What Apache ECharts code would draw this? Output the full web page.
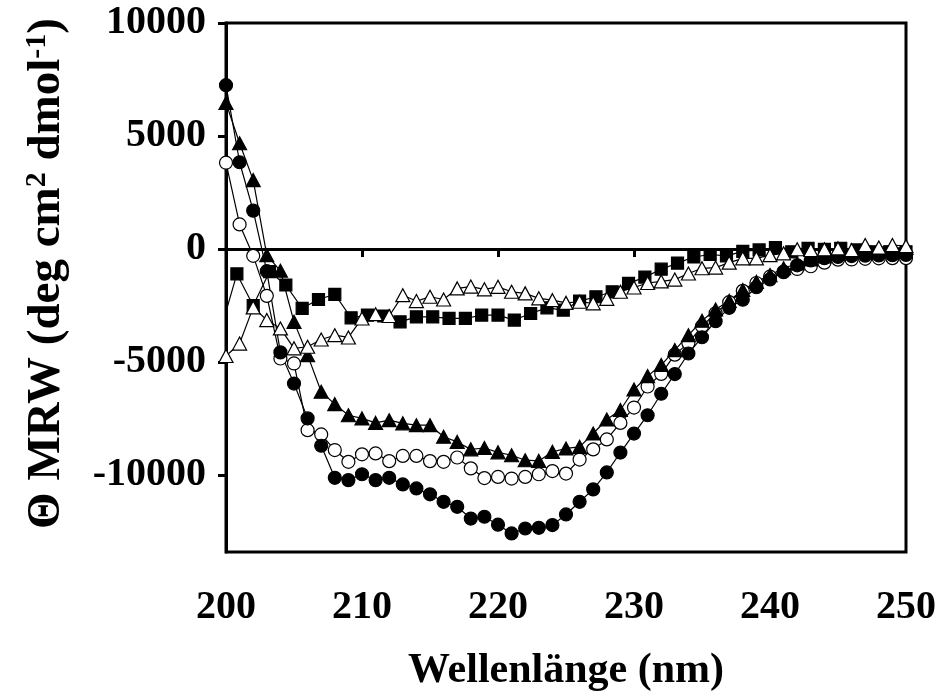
<!DOCTYPE html>
<html>
<head>
<meta charset="utf-8">
<script src="https://cdn.jsdelivr.net/npm/echarts@6/dist/echarts.min.js"></script>
<style>
html,body{margin:0;padding:0;background:#fff;}
#chart{width:936px;height:692px;}
</style>
</head>
<body>
<div id="chart"></div>
<script>
// Wavelengths (nm) for circle / triangle series
const wavelengths = [200,201,202,203,204,205,206,207,208,209,210,211,212,213,214,215,216,217,218,219,220,
  221,222,223,224,225,226,227,228,229,230,231,232,233,234,235,236,237,238,239,240,
  241,242,243,244,245,246,247,248,249,250];

// Filled circles
const filledCircle = [7250,3840,1700,-980,-4570,-5950,-7490,-8700,-10120,-10220,-9960,-10220,-10120,-10410,-10590,-10850,-11180,-11400,-11920,-11840,-12190,
  -12580,-12360,-12330,-12210,-11740,-11180,-10630,-9880,-9000,-8160,-7350,-6400,-5530,-4620,-3900,-3190,-2600,-2240,-1690,-1340,
  -1020,-720,-500,-400,-350,-310,-290,-280,-270,-260];

// Open circles
const openCircle = [3820,1090,-300,-2070,-4840,-5060,-8010,-8200,-8890,-9410,-9080,-9040,-9380,-9150,-9150,-9380,-9410,-9220,-9700,-10130,-10080,
  -10150,-10080,-9960,-9820,-9930,-9310,-8860,-8420,-7690,-7010,-6080,-5520,-4670,-4160,-3410,-2840,-2350,-1850,-1500,-1220,
  -1000,-880,-760,-600,-470,-460,-430,-410,-400,-400];

// Filled triangles
const filledTriangle = [6460,4680,3050,-270,-960,-3220,-4690,-6310,-6860,-7350,-7490,-7690,-7570,-7710,-7790,-7790,-8300,-8530,-8860,-8800,-8990,
  -9120,-9340,-9370,-8970,-8820,-8750,-8160,-7540,-7120,-6210,-5620,-5130,-4470,-3810,-3170,-2670,-2290,-1810,-1450,-1150,
  -850,-640,-460,-330,-200,-100,0,0,50,50];

// Open triangles
const openTriangle = [-4730,-4180,-2580,-3140,-3510,-4390,-4320,-4000,-3810,-3910,-3070,-2880,-2960,-2040,-2300,-2110,-2230,-1740,-1660,-1780,-1670,
  -1890,-1960,-2180,-2260,-2380,-2330,-2400,-2200,-1890,-1700,-1500,-1430,-1350,-1080,-850,-820,-600,-410,-410,-270,
  -190,-10,-40,-10,30,-40,180,70,180,130];

// Filled squares (own wavelength grid)
const squareWavelengths = [199.6,200.8,202.0,203.2,204.4,205.6,206.8,208.0,209.2,210.4,211.6,212.8,214.0,215.2,216.4,217.6,218.8,220.0,221.2,222.4,223.6,
  224.8,226.0,227.2,228.4,229.6,230.8,232.0,233.2,234.4,235.6,236.8,238.0,239.2,240.4,241.6,242.8,244.0,245.2,246.4,247.6,248.8,250.0];
const filledSquare = [-3600,-1100,-2500,-1000,-1590,-2620,-2230,-2000,-3040,-2920,-2960,-3220,-3000,-3000,-3070,-3070,-2920,-2920,-3140,-2850,-2600,
  -2700,-2300,-2110,-1890,-1520,-1240,-890,-620,-350,-240,-300,-100,-40,60,-120,30,-10,30,-40,-120,-120,-120];

// Axis ticks
const xTicks = [200,210,220,230,240,250];
const yTicks = [-10000,-5000,0,5000,10000];

function pairs(xs, ys){ return xs.map((x,i)=>[x, ys[i]]); }

const FONT = 'Liberation Serif, Times New Roman, serif';
const chart = echarts.init(document.getElementById('chart'), null, {renderer:'canvas'});

function mk(name, xs, ys, symbol, size, fill){
  return {
    name, type:'line', data: pairs(xs, ys), symbol, symbolSize: size,
    showAllSymbol: true, clip: true, animation:false,
    lineStyle:{color:'#000', width:1.2},
    itemStyle:{color: fill, borderColor:'#000', borderWidth:1.2, opacity:1},
    emphasis:{disabled:true}
  };
}

chart.setOption({
  backgroundColor:'#fff',
  animation:false,
  grid:{left:226, right:30, top:23, bottom:140, show:true, borderColor:'#000', borderWidth:3,
    backgroundColor:'transparent', containLabel:false, outerBoundsMode:'none'},
  xAxis:{
    type:'value', min:200, max:250, interval:10,
    name:'Wellenlänge (nm)', nameLocation:'middle', nameGap:98,
    nameTextStyle:{fontFamily:FONT, fontWeight:'bold', fontSize:42, color:'#000'},
    axisLine:{show:true, lineStyle:{color:'#000', width:3}},
    axisTick:{show:true, inside:false, length:8, lineStyle:{color:'#000', width:3}},
    axisLabel:{fontFamily:FONT, fontWeight:'bold', fontSize:40, color:'#000', margin:36,
      customValues: xTicks, formatter: v => String(v)},
    splitLine:{show:false}
  },
  yAxis:{
    type:'value', min:-13400, max:10000,
    name:'{t|Θ MRW (deg cm}{sup|2}{t| dmol}{sup|-1}{t|)}',
    nameLocation:'middle', nameGap:154, nameRotate:90,
    nameTextStyle:{fontFamily:FONT, fontWeight:'bold', fontSize:47, color:'#000',
      padding:[0,0,0,28],
      rich:{
        t:{fontFamily:FONT, fontWeight:'bold', fontSize:47, color:'#000', lineHeight:50},
        sup:{fontFamily:FONT, fontWeight:'bold', fontSize:30, color:'#000', verticalAlign:'top', lineHeight:50}
      }},
    axisLine:{show:true, lineStyle:{color:'#000', width:3}},
    axisTick:{show:true, inside:false, length:8, lineStyle:{color:'#000', width:3}, customValues: yTicks},
    axisLabel:{fontFamily:FONT, fontWeight:'bold', fontSize:40, color:'#000', margin:20, customValues: yTicks,
      formatter: v => String(v)},
    splitLine:{show:false}
  },
  series:[
    mk('square', squareWavelengths, filledSquare, 'rect', 12, '#000'),
    mk('openCircle', wavelengths, openCircle, 'circle', 13, '#fff'),
    mk('filledCircle', wavelengths, filledCircle, 'circle', 13, '#000'),
    mk('filledTriangle', wavelengths, filledTriangle, 'triangle', [14,13], '#000'),
    mk('openTriangle', wavelengths, openTriangle, 'triangle', [14,13], '#fff')
  ]
});
</script>
</body>
</html>
